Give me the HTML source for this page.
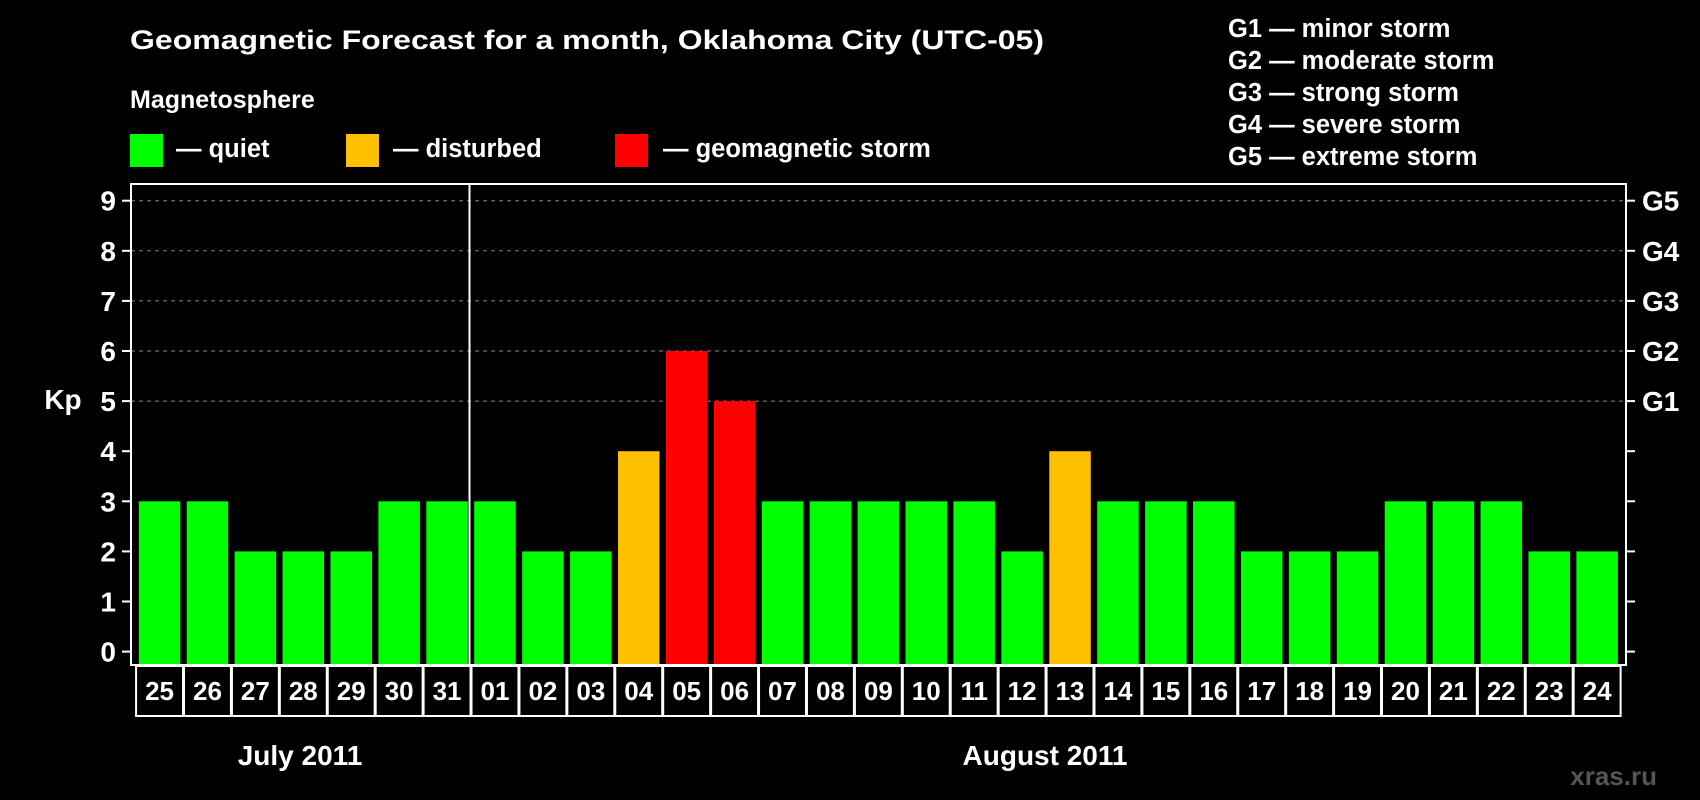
<!DOCTYPE html>
<html><head><meta charset="utf-8"><style>
html,body{margin:0;padding:0;background:#000;}
svg{display:block;font-family:"Liberation Sans",Arial,sans-serif;font-weight:bold;}
</style></head><body>
<svg id="chart" width="1700" height="800" viewBox="0 0 1700 800">
<text x="130" y="49" fill="#fff" font-size="27" textLength="914" lengthAdjust="spacingAndGlyphs">Geomagnetic Forecast for a month, Oklahoma City (UTC-05)</text>
<text x="130" y="108" fill="#fff" font-size="25">Magnetosphere</text>
<g><rect x="130" y="134" width="33" height="33" fill="#00ff00"/><text x="176" y="157" fill="#fff" font-size="25.5">— quiet</text></g>
<g><rect x="346" y="134" width="33" height="33" fill="#ffc000"/><text x="393" y="157" fill="#fff" font-size="25.5">— disturbed</text></g>
<g><rect x="615" y="134" width="33" height="33" fill="#ff0000"/><text x="663" y="157" fill="#fff" font-size="25.5">— geomagnetic storm</text></g>
<g fill="#fff" font-size="25.5">
<text x="1228" y="37">G1 — minor storm</text>
<text x="1228" y="69">G2 — moderate storm</text>
<text x="1228" y="101">G3 — strong storm</text>
<text x="1228" y="133">G4 — severe storm</text>
<text x="1228" y="165">G5 — extreme storm</text>
</g>
<text x="63" y="409" fill="#fff" font-size="28" text-anchor="middle">Kp</text>
<g id="grid"></g><g id="bars"></g><g id="axes"></g><g id="xlabels"></g>
<text x="300" y="765" fill="#fff" font-size="28" text-anchor="middle">July 2011</text>
<text x="1045" y="765" fill="#fff" font-size="28" text-anchor="middle">August 2011</text>
<text x="1657" y="785" fill="#555" font-size="26" text-anchor="end">xras.ru</text>
</svg>
<script>
const days = ["25","26","27","28","29","30","31","01","02","03","04","05","06","07","08","09","10","11","12","13","14","15","16","17","18","19","20","21","22","23","24"];
const kp = [3,3,2,2,2,3,3,3,2,2,4,6,5,3,3,3,3,3,2,4,3,3,3,2,2,2,3,3,3,2,2];
const yTicks = [0,1,2,3,4,5,6,7,8,9];
const gLabels = ["G1","G2","G3","G4","G5"];
const gLevels = [5,6,7,8,9];
const NS="http://www.w3.org/2000/svg";
const L=131,R=1626,T=184,B=665,y0=651.6,unit=50.1,pitch=47.92,bx0=138.8,bw=41.5;
const y=v=>y0-v*unit;
const x=i=>bx0+i*pitch;
function mk(tag,attrs,parent){const e=document.createElementNS(NS,tag);for(const k in attrs)e.setAttribute(k,attrs[k]);parent.appendChild(e);return e;}
const grid=document.getElementById('grid'),bars=document.getElementById('bars'),axes=document.getElementById('axes'),xl=document.getElementById('xlabels');
gLevels.forEach((v,i)=>{
 const ln=mk('line',{x1:L,x2:R,y1:y(v),y2:y(v),stroke:'#888','stroke-dasharray':'4,4','stroke-width':1},grid);
 
 
 const t=mk('text',{x:1642,y:y(v)+10,fill:'#fff','font-size':28},axes);t.textContent=gLabels[i];
 
 
});
kp.forEach((v,i)=>{
 const c=v>=5?'#ff0000':(v>=4?'#ffc000':'#00ff00');
 const r=mk('rect',{x:x(i),y:y(v),width:bw,height:B-1-y(v),fill:c},bars);
 
 
});
const frame=mk('rect',{x:L,y:T,width:R-L,height:B-T,fill:'none',stroke:'#fff','stroke-width':2},axes);


const dv=mk('line',{x1:469.5,x2:469.5,y1:T,y2:B,stroke:'#fff','stroke-width':2},axes);


yTicks.forEach(v=>{
 mk('line',{x1:122,x2:L,y1:y(v),y2:y(v),stroke:'#fff','stroke-width':2},axes);
 mk('line',{x1:R,x2:1635,y1:y(v),y2:y(v),stroke:'#fff','stroke-width':2},axes);
 const t=mk('text',{x:116,y:y(v)+10,fill:'#fff','font-size':28,'text-anchor':'end'},axes);t.textContent=v;
 
 
});
days.forEach((d,i)=>{
 const cx=x(i)+bw/2;
 const cell=mk('rect',{x:cx-pitch/2+0.5,y:B+1,width:pitch-1,height:50,fill:'none',stroke:'#fff','stroke-width':2},xl);
 
 
 const t=mk('text',{x:cx,y:B+35,fill:'#fff','font-size':26,'text-anchor':'middle'},xl);t.textContent=d;
 
 
});
</script>
</body></html>
